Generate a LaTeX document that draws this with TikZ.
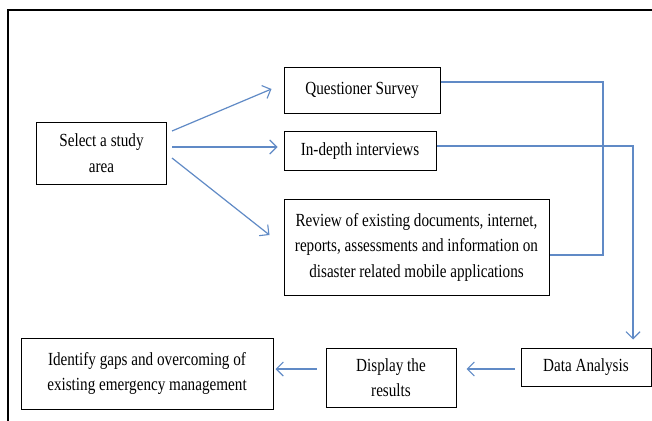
\documentclass[tikz,border=0pt]{standalone}
\usepackage{fontspec}
\setmainfont{Liberation Serif}[FakeStretch=0.82]
\usetikzlibrary{arrows.meta}
\definecolor{linkblue}{RGB}{96,138,198}
\tikzset{
  box/.style={draw=black, line width=1pt, align=center, inner sep=2pt,
    font=\fontsize{18.5}{25.5}\selectfont},
  conn/.style={draw=linkblue, line width=1.2pt},
  arr/.style={conn, -{Straight Barb[length=7pt,width=14pt,line width=1.1pt]}}
}
\begin{document}
\begin{tikzpicture}[x=1pt,y=-1pt]
\useasboundingbox (0,0) rectangle (652,420);
\fill[white] (0,0) rectangle (652,420);
\draw[line width=2.2pt] (8,440) -- (8,10) -- (670,10);

\node[box, minimum width=130pt, minimum height=62pt] (S) at (101.5,153) {Select a study\\area};
\node[box, minimum width=156pt, minimum height=46pt] (Q) at (362,90) {Questioner Survey};
\node[box, minimum width=152pt, minimum height=39pt] (I) at (360,151) {In-depth interviews};
\node[box, minimum width=265pt, minimum height=96pt] (R) at (416.5,247) {Review of existing documents, internet,\\reports, assessments and information on\\disaster related mobile applications};
\node[box, minimum width=130pt, minimum height=38pt] (D) at (586,367) {Data Analysis};
\node[box, minimum width=130pt, minimum height=59pt] (P) at (391,377.5) {Display the\\results};
\node[box, minimum width=252pt, minimum height=71pt] (G) at (147,373.5) {Identify gaps and overcoming of\\existing emergency management};

% arrows from the study area
\draw[arr] ([shift={(5,-22)}]S.east) -- ([shift={(-12,-1)}]Q.west);
\draw[arr] ([shift={(5,-6)}]S.east) -- ([shift={(-6,-4)}]I.west);
\draw[arr] ([shift={(5,5)}]S.east) -- ([shift={(-14,-12)}]R.west);

% collector lines
\coordinate (qa) at ([shift={(0,-8)}]Q.east);
\coordinate (ra) at ([shift={(0,8)}]R.east);
\coordinate (j1) at (603,0);
\draw[conn] (qa) -- (qa -| j1) |- (ra);

\coordinate (ia) at ([shift={(0,-5)}]I.east);
\coordinate (da) at ([shift={(47,-8)}]D.north);
\draw[arr] (ia) -| (da);

% bottom flow
\coordinate (d1) at ([shift={(-6,2)}]D.west);
\coordinate (p1) at (P.east |- d1);
\coordinate (p2) at (P.west |- d1);
\coordinate (g1) at (G.east |- d1);
\draw[arr] (d1) -- ([xshift=10pt]p1);
\draw[arr] ([xshift=-9pt]p2) -- ([xshift=2pt]g1);
\end{tikzpicture}
\end{document}
